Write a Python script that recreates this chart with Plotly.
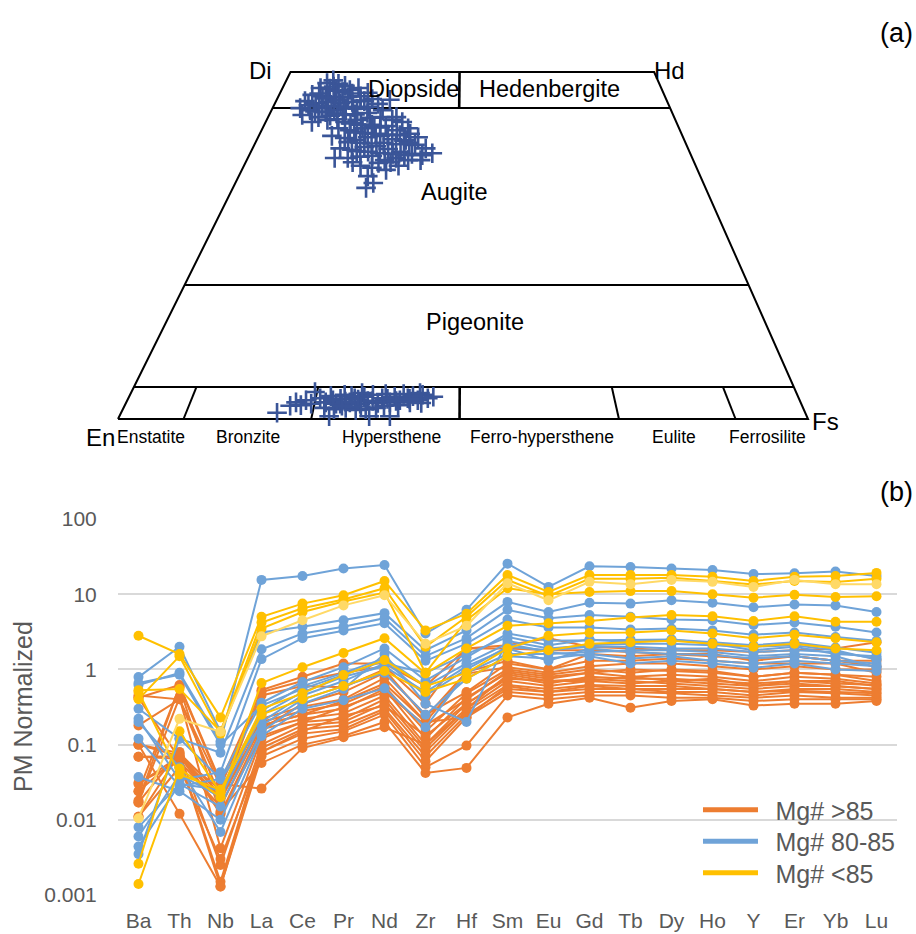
import plotly.graph_objects as go

# ---------------- (a) pyroxene quadrilateral data (mol %) ----------------
cpx_wo = [48.8, 48.4, 48.3, 48.0, 47.7, 47.6, 47.4, 47.7, 47.1, 46.7, 46.5, 46.4, 46.4, 46.5, 47.0,
          45.8, 45.5, 45.7, 45.5, 45.7, 45.8, 46.1, 44.8, 44.5, 44.8, 44.5, 44.8, 44.7, 45.0,
          43.8, 43.5, 43.7, 43.8, 43.9, 44.1, 45.4, 44.5, 42.8, 43.1, 46.0,
          42.8, 43.1, 43.4, 43.5, 43.1, 42.8, 41.9, 41.9, 41.6, 41.9, 42.1, 42.2, 41.6, 41.1, 40.6,
          40.8, 40.5, 40.2, 40.6, 40.8, 40.3, 40.1, 39.5, 39.0, 39.0, 38.8, 39.2, 39.3, 38.9, 38.5,
          38.2, 38.0, 38.3, 37.6, 37.6, 37.8, 37.9, 37.3, 37.6, 37.3, 36.5, 36.2, 35.9, 36.5,
          35.0, 34.0, 33.3, 43.5, 40.2, 37.3,
          47.9, 47.3, 46.9, 46.9, 46.2, 46.0, 45.9, 45.2, 45.1, 45.1, 45.0, 44.9, 44.3, 44.2, 44.0,
          43.2, 42.6, 42.4, 42.4, 42.0, 41.3, 41.2, 41.1, 41.0, 40.9, 39.9, 39.8, 39.7, 39.8, 39.6,
          39.8, 38.6, 38.5, 38.3, 38.2, 38.0, 37.0, 36.9, 37.0]
cpx_fs = [6.8, 6.1, 7.8, 8.9, 5.5, 6.9, 9.9, 11.0, 9.0, 4.8, 6.4, 8.2, 10.1, 11.9, 12.7,
          4.2, 5.9, 7.6, 9.5, 11.1, 12.8, 13.8, 4.0, 5.6, 7.2, 9.1, 10.6, 12.3, 13.7,
          4.8, 7.3, 8.9, 10.7, 12.4, 14.1, 15.0, 16.1, 6.7, 8.8, 16.4,
          11.5, 13.1, 14.8, 16.3, 18.2, 19.8, 21.1, 11.0, 12.8, 14.5, 16.1, 17.7, 19.6, 21.8, 23.2,
          10.6, 12.6, 14.4, 15.9, 17.6, 19.6, 21.4, 23.3, 25.1, 12.7, 14.5, 16.1, 17.8, 19.7, 21.7,
          23.5, 25.1, 26.4, 12.6, 14.5, 16.2, 17.9, 20.0, 21.5, 23.4, 16.9, 18.7, 20.9, 22.4,
          18.7, 20.0, 19.3, 18.6, 21.6, 25.2,
          7.3, 8.0, 5.7, 10.5, 7.0, 9.0, 12.2, 5.0, 6.6, 8.4, 10.2, 11.6, 6.4, 8.0, 9.8,
          10.2, 12.4, 14.0, 15.6, 17.0, 13.6, 15.2, 16.8, 18.6, 20.4, 13.4, 15.2, 16.9, 18.6, 20.5,
          22.3, 15.3, 17.0, 18.8, 20.7, 22.5, 15.5, 19.3, 21.0]

opx_wo = [0.9, 1.9, 2.4, 2.0, 2.7, 2.2, 3.9, 3.0, 2.4, 3.3, 2.2, 2.9, 3.5, 2.4, 3.0, 2.2,
          3.2, 2.6, 3.5, 2.3, 3.0, 3.6, 2.4, 3.2, 2.7, 3.6, 3.0, 3.3, 2.7, 3.5, 3.0, 3.2,
          1.6, 1.4, 1.6, 1.3, 1.4, 1.6, 0.4, 0.4, 0.4, 2.2, 3.3, 3.75, 1.9, 2.0, 2.4, 3.75,
          2.7, 2.5, 2.8, 2.6, 2.9, 2.6, 2.9, 2.3, 1.8, 1.9]
opx_fs = [22.6, 24.0, 24.6, 25.5, 25.9, 26.9, 26.6, 27.8, 28.9, 29.2, 30.5, 30.8, 31.1, 32.4, 32.8, 34.0,
          34.1, 34.9, 35.2, 36.5, 36.8, 37.0, 38.2, 38.5, 39.5, 39.6, 40.5, 41.1, 42.1, 42.4, 43.4, 44.1,
          29.1, 30.6, 32.2, 33.8, 35.2, 36.6, 30.4, 36.2, 39.2, 31.1, 32.2, 33.5, 37.6, 39.6, 41.1, 41.9,
          29.8, 31.7, 33.4, 35.6, 37.6, 39.0, 40.8, 42.8, 34.3, 31.5]

# field boundaries: Wo levels of the horizontal lines and Fs/(En+Fs) ratios of the dividers
wo_levels = [44.8, 19.3, 4.6]
wo_top = 50
hd_corner = 77.7          # projected position of the Hd corner as drawn on this sheet
di_hd_ratio = 0.49
opx_ratios = [0.095, 0.28, 0.495, 0.726, 0.895]

field_names = ["Diopside", "Hedenbergite", "Augite", "Pigeonite"]
field_wo = [47.6, 47.6, 32.7, 14.0]
field_x = [42.8, 62.5, 48.8, 51.7]
opx_names = ["Enstatite", "Bronzite", "Hypersthene", "Ferro-hypersthene", "Eulite", "Ferrosilite"]
opx_label_x = [4.8, 18.8, 39.6, 61.4, 80.6, 94.2]
end_members = ["Di", "Hd", "En", "Fs"]
end_x = [20.6, 79.9, -2.6, 102.6]
end_wo = [50.2, 50.2, -2.6, -0.4]

# ---------------- (b) primitive-mantle normalised spider diagram ----------------
elements = ["Ba", "Th", "Nb", "La", "Ce", "Pr", "Nd", "Zr", "Hf", "Sm",
            "Eu", "Gd", "Tb", "Dy", "Ho", "Y", "Er", "Yb", "Lu"]

mg_above_85 = [
    [0.42, 0.62, 0.032, 0.53, 0.80, 1.20, 1.20, 0.60, 1.90, 2.10, 2.60, 2.00, 1.90, 1.80, 1.80, 1.70, 1.80, 1.90, 2.30],
    [0.18, 0.40, 0.028, 0.45, 0.60, 0.58, 1.00, 0.23, 0.93, 1.30, 1.00, 1.60, 1.50, 1.60, 1.60, 1.30, 1.50, 1.30, 1.30],
    [0.10, 0.077, 0.022, 0.22, 0.32, 0.40, 0.77, 0.20, 0.88, 1.07, 0.90, 1.10, 1.20, 1.20, 1.10, 1.00, 1.10, 1.00, 1.00],
    [0.069, 0.070, 0.018, 0.20, 0.28, 0.35, 0.60, 0.15, 0.48, 1.00, 0.85, 1.00, 0.90, 1.00, 0.95, 0.80, 0.90, 0.85, 0.70],
    [0.031, 0.060, 0.015, 0.18, 0.25, 0.30, 0.55, 0.12, 0.42, 0.90, 0.75, 0.90, 0.80, 0.85, 0.80, 0.70, 0.80, 0.75, 0.65],
    [0.024, 0.58, 0.012, 0.16, 0.22, 0.26, 0.45, 0.10, 0.35, 0.80, 0.65, 0.80, 0.75, 0.75, 0.70, 0.65, 0.70, 0.70, 0.60],
    [0.017, 0.42, 0.0042, 0.12, 0.20, 0.22, 0.40, 0.09, 0.30, 0.70, 0.60, 0.70, 0.65, 0.70, 0.65, 0.60, 0.65, 0.60, 0.55],
    [0.011, 0.075, 0.0025, 0.10, 0.18, 0.20, 0.35, 0.08, 0.28, 0.62, 0.55, 0.62, 0.60, 0.60, 0.55, 0.50, 0.55, 0.55, 0.50],
    [0.42, 0.065, 0.0015, 0.09, 0.16, 0.18, 0.30, 0.07, 0.25, 0.55, 0.50, 0.55, 0.55, 0.50, 0.50, 0.45, 0.50, 0.48, 0.45],
    [0.10, 0.012, 0.0013, 0.08, 0.14, 0.16, 0.28, 0.06, 0.23, 0.50, 0.45, 0.50, 0.50, 0.48, 0.45, 0.42, 0.45, 0.42, 0.42],
    [0.069, 0.065, 0.0013, 0.07, 0.12, 0.15, 0.25, 0.05, 0.097, 0.45, 0.40, 0.45, 0.45, 0.42, 0.42, 0.38, 0.40, 0.40, 0.40],
    [0.030, 0.070, 0.013, 0.057, 0.10, 0.13, 0.20, 0.042, 0.049, 0.23, 0.35, 0.42, 0.31, 0.38, 0.40, 0.33, 0.35, 0.35, 0.38],
    [0.018, 0.60, 0.030, 0.026, 0.09, 0.125, 0.17, 0.10, 0.30, 0.85, 0.70, 0.75, 0.70, 0.65, 0.60, 0.55, 0.60, 0.60, 0.55],
    [0.10, 0.070, 0.020, 0.50, 0.70, 0.90, 1.10, 0.35, 1.90, 1.90, 1.80, 1.80, 1.70, 1.60, 1.50, 1.40, 1.50, 1.30, 1.10],
    [0.024, 0.070, 0.025, 0.16, 0.35, 0.50, 0.90, 0.25, 0.50, 1.20, 1.00, 1.30, 1.30, 1.40, 1.30, 1.20, 1.20, 1.20, 0.90],
    [0.017, 0.080, 0.012, 0.13, 0.20, 0.32, 0.50, 0.18, 0.40, 0.95, 0.80, 0.90, 1.00, 0.95, 0.90, 0.80, 0.90, 0.85, 0.80],
    [0.011, 0.050, 0.003, 0.08, 0.15, 0.24, 0.33, 0.13, 0.35, 0.75, 0.70, 0.70, 0.80, 0.70, 0.75, 0.60, 0.70, 0.65, 0.62],
    [0.45, 0.40, 0.020, 0.18, 0.25, 0.38, 0.65, 0.20, 0.23, 0.60, 0.50, 0.60, 0.55, 0.55, 0.55, 0.50, 0.52, 0.50, 0.48],
]

mg_80_85 = [
    [0.62, 0.90, 0.11, 15.5, 17.5, 22.0, 24.5, 3.0, 6.2, 25.5, 12.5, 23.5, 23.0, 22.0, 21.0, 18.5, 19.0, 20.0, 17.5],
    [0.79, 2.0, 0.15, 3.1, 3.7, 4.5, 5.6, 1.8, 3.3, 7.9, 5.8, 7.7, 7.5, 8.3, 7.7, 6.7, 7.3, 7.1, 5.8],
    [0.30, 0.12, 0.078, 1.85, 3.0, 3.7, 4.8, 1.5, 2.6, 6.2, 4.8, 5.3, 5.0, 4.6, 4.5, 3.9, 4.2, 3.7, 3.1],
    [0.22, 0.034, 0.043, 1.37, 2.6, 3.3, 4.1, 1.3, 2.2, 4.6, 3.6, 3.6, 3.4, 3.5, 3.3, 2.9, 3.1, 2.7, 2.4],
    [0.12, 0.028, 0.035, 0.36, 0.68, 1.07, 1.9, 0.71, 1.45, 3.0, 2.4, 2.45, 2.5, 2.5, 2.3, 2.1, 2.3, 1.95, 1.66],
    [0.037, 0.024, 0.010, 0.15, 0.35, 0.55, 1.6, 0.35, 0.20, 2.4, 1.9, 2.1, 2.2, 2.2, 2.1, 2.0, 2.1, 1.8, 1.35],
    [0.20, 0.050, 0.0069, 0.13, 0.30, 0.39, 0.56, 0.17, 0.90, 1.6, 1.6, 1.7, 1.8, 1.8, 1.7, 1.5, 1.6, 1.5, 1.07],
    [0.008, 0.030, 0.015, 0.20, 0.45, 0.70, 1.20, 0.90, 1.60, 2.7, 2.1, 2.5, 2.3, 2.5, 2.2, 1.8, 2.0, 1.6, 1.5],
    [0.006, 0.040, 0.020, 0.25, 0.50, 0.80, 1.10, 0.50, 1.10, 1.9, 1.3, 1.9, 1.7, 1.6, 1.55, 1.4, 1.5, 1.3, 1.2],
    [0.0044, 0.030, 0.025, 0.28, 0.60, 0.90, 1.40, 0.60, 1.20, 2.2, 1.7, 1.5, 1.2, 1.3, 1.2, 1.05, 1.2, 1.0, 0.95],
    [0.0035, 0.12, 0.035, 0.18, 0.40, 0.60, 0.90, 0.25, 0.75, 1.5, 1.4, 1.6, 1.4, 1.5, 1.3, 1.2, 1.3, 1.2, 1.1],
    [0.66, 0.85, 0.10, 0.33, 0.55, 0.85, 1.30, 0.45, 1.00, 2.0, 1.8, 2.0, 2.0, 1.9, 1.9, 1.7, 1.8, 1.7, 1.4],
]

mg_below_85 = [
    [2.8, 1.6, 0.23, 5.0, 7.5, 9.7, 15.0, 3.3, 5.5, 18.0, 10.7, 18.0, 18.0, 18.0, 17.0, 15.0, 17.0, 17.5, 19.2],
    [0.53, 0.55, 0.15, 4.2, 6.5, 8.5, 12.0, 2.0, 5.0, 15.5, 9.5, 16.0, 16.0, 16.5, 15.0, 13.5, 15.0, 14.5, 16.0],
    [0.40, 1.5, 0.14, 3.5, 5.8, 8.0, 10.5, 0.9, 4.5, 12.0, 10.0, 10.7, 11.0, 11.0, 10.0, 9.0, 9.8, 9.2, 9.4],
    [0.0014, 0.048, 0.020, 0.66, 1.07, 1.65, 2.6, 0.88, 1.9, 3.8, 4.1, 4.4, 4.9, 5.3, 5.1, 4.4, 5.1, 4.3, 4.3],
    [0.0026, 0.15, 0.023, 0.30, 0.48, 0.84, 1.33, 0.60, 0.90, 1.9, 2.8, 3.07, 3.1, 3.3, 3.0, 2.6, 2.9, 2.6, 2.3],
    [0.50, 0.040, 0.025, 0.25, 0.40, 0.60, 0.95, 0.50, 0.75, 1.5, 1.8, 2.2, 2.3, 2.4, 2.2, 2.0, 2.2, 1.9, 1.8],
]
mg_below_85_pale = [
    [0.0105, 0.22, 0.148, 2.75, 4.5, 7.1, 9.7, 2.2, 3.8, 14.0, 8.3, 14.6, 13.6, 15.5, 14.6, 12.5, 15.5, 13.6, 13.6],
]

group_names = ["Mg# >85", "Mg# 80-85", "Mg# <85"]
ORANGE, BLUE, GOLD, PALE_GOLD = "#ED7D31", "#6FA3D8", "#FFC000", "#FFD966"
CROSS = "#3A5598"
TXT = "#595959"
FONT = "Liberation Sans, Arial, sans-serif"
EN_SPACE = "\u2002"


def proj(wo, fs):
    """Project a Wo-En-Fs composition onto the quadrilateral plane."""
    return fs + wo / 2.0, wo


def right_edge(wo):
    return 100.0 - (100.0 - hd_corner) * wo / wo_top


def divider(ratio, wo_a, wo_b):
    xs, ys = [], []
    for w in (wo_a, wo_b):
        x, y = proj(w, (100.0 - w) * ratio)
        xs.append(x)
        ys.append(y)
    return xs, ys


fig = go.Figure()

# outline of the quadrilateral
ox = [proj(0, 0)[0], 100.0, hd_corner, proj(wo_top, 0)[0], proj(0, 0)[0]]
oy = [0, 0, wo_top, wo_top, 0]
fig.add_trace(go.Scatter(x=ox, y=oy, mode="lines", line=dict(color="black", width=2),
                         showlegend=False, hoverinfo="skip"))

# horizontal Wo boundaries
for w in wo_levels:
    fig.add_trace(go.Scatter(x=[proj(w, 0)[0], right_edge(w)], y=[w, w], mode="lines",
                             line=dict(color="black", width=2), showlegend=False, hoverinfo="skip"))

# diopside / hedenbergite divider
dx, dy = divider(di_hd_ratio, wo_levels[0], wo_top)
fig.add_trace(go.Scatter(x=dx, y=dy, mode="lines", line=dict(color="black", width=2.6),
                         showlegend=False, hoverinfo="skip"))

# orthopyroxene dividers
for i, r in enumerate(opx_ratios):
    dx, dy = divider(r, 0, wo_levels[2])
    fig.add_trace(go.Scatter(x=dx, y=dy, mode="lines",
                             line=dict(color="black", width=2.6 if i == 2 else 2),
                             showlegend=False, hoverinfo="skip"))

# analyses
for wos, fss in ((cpx_wo, cpx_fs), (opx_wo, opx_fs)):
    px = [proj(w, f)[0] for w, f in zip(wos, fss)]
    fig.add_trace(go.Scatter(x=px, y=wos, mode="markers",
                             marker=dict(symbol="cross-thin", size=14, color=CROSS,
                                         line=dict(color=CROSS, width=2.6)),
                             showlegend=False, hoverinfo="skip"))

annotations = []
for name, x, w in zip(field_names, field_x, field_wo):
    annotations.append(dict(x=x, y=w, xref="x", yref="y", text=name, showarrow=False,
                            font=dict(family=FONT, size=23.5, color="black")))
for name, x in zip(opx_names, opx_label_x):
    annotations.append(dict(x=x, y=-2.6, xref="x", yref="y", text=name, showarrow=False,
                            font=dict(family=FONT, size=17.5, color="black")))
for name, x, w in zip(end_members, end_x, end_wo):
    annotations.append(dict(x=x, y=w, xref="x", yref="y", text=name, showarrow=False,
                            font=dict(family=FONT, size=24, color="black")))
for label, ypx in (("(a)", 33), ("(b)", 492)):
    annotations.append(dict(x=896 / 916, y=1 - ypx / 934, xref="paper", yref="paper",
                            xanchor="center", yanchor="middle", text=label, showarrow=False,
                            font=dict(family=FONT, size=27, color="black")))
annotations.append(dict(x=23 / 916, y=1 - 707 / 934, xref="paper", yref="paper",
                        xanchor="center", yanchor="middle",
                        text="PM Normalized", textangle=-90, showarrow=False,
                        font=dict(family=FONT, size=25, color=TXT)))

# spider lines
def add_rows(rows, color):
    for row in rows:
        fig.add_trace(go.Scatter(x=elements, y=row, mode="lines+markers", xaxis="x2", yaxis="y2",
                                 line=dict(color=color, width=2),
                                 marker=dict(size=10, color=color),
                                 showlegend=False, hoverinfo="skip"))

add_rows(mg_above_85, ORANGE)
add_rows(mg_80_85, BLUE)
add_rows(mg_below_85, GOLD)
add_rows(mg_below_85_pale, PALE_GOLD)

# legend entries, one legend box per group so the rows sit at the same spacing as the key
legend_keys = ["legend", "legend2", "legend3"]
legend_rows_px = [810, 841.5, 873]
for name, color, key in zip(group_names, (ORANGE, BLUE, GOLD), legend_keys):
    fig.add_trace(go.Scatter(x=[elements[0]], y=[None], mode="lines", xaxis="x2", yaxis="y2",
                             line=dict(color=color, width=5), name=EN_SPACE + name,
                             legend=key, showlegend=True))

legend_layout = {}
for key, ypx in zip(legend_keys, legend_rows_px):
    legend_layout[key] = dict(x=0.762, y=1 - ypx / 934, xanchor="left", yanchor="middle",
                              font=dict(family=FONT, size=25, color=TXT),
                              bgcolor="rgba(0,0,0,0)", itemwidth=55)

fig.update_layout(
    width=916, height=934,
    margin=dict(l=0, r=0, t=0, b=0, autoexpand=False),
    paper_bgcolor="white", plot_bgcolor="white",
    font=dict(family=FONT, color=TXT),
    showlegend=True,
    xaxis=dict(domain=[0, 1], range=[-118 / 6.9, -118 / 6.9 + 916 / 6.9], visible=False,
               fixedrange=True),
    yaxis=dict(domain=[1 - 460 / 934, 1], range=[-41 / 6.94, 419 / 6.94], visible=False,
               fixedrange=True),
    xaxis2=dict(domain=[118 / 916, 897 / 916], anchor="y2", type="category",
                categoryorder="array", categoryarray=elements, range=[-0.5, 18.5],
                showgrid=False, zeroline=False, showline=False,
                ticks="outside", ticklen=7, tickcolor="rgba(0,0,0,0)",
                tickfont=dict(family=FONT, size=21, color=TXT)),
    yaxis2=dict(domain=[1 - 895 / 934, 1 - 519 / 934], anchor="x2", type="log",
                range=[-3, 2], tickvals=[0.001, 0.01, 0.1, 1, 10, 100],
                ticktext=["0.001", "0.01", "0.1", "1", "10", "100"],
                showgrid=True, gridcolor="#D9D9D9", gridwidth=2, zeroline=False, showline=False,
                ticks="outside", ticklen=16, tickcolor="rgba(0,0,0,0)",
                tickfont=dict(family=FONT, size=21, color=TXT)),
    annotations=annotations,
    **legend_layout,
)

fig.write_html("out.html")
